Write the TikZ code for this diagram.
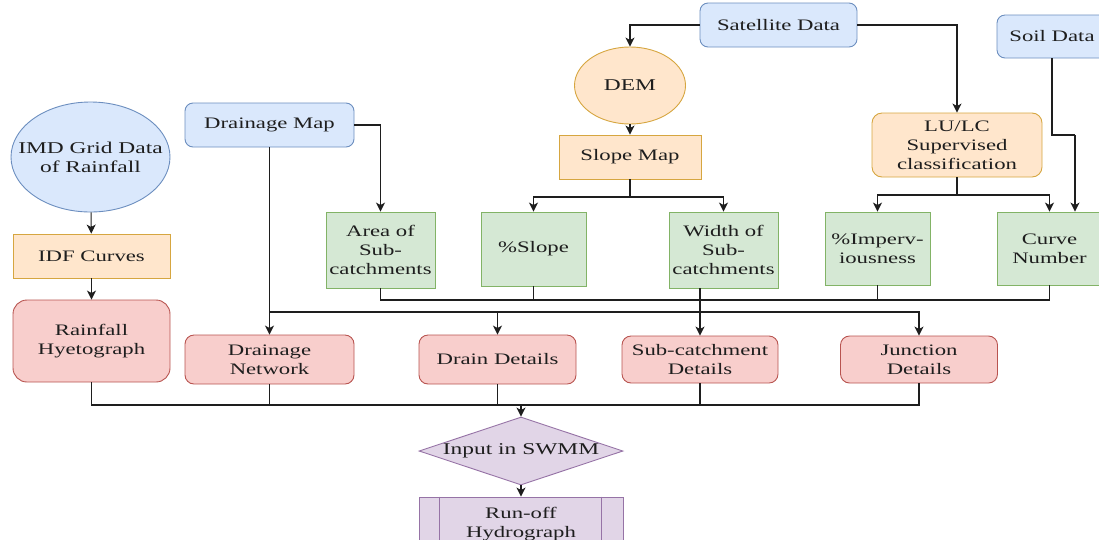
\documentclass[tikz,border=0pt]{standalone}
\usepackage{fontspec}
\setmainfont{Liberation Serif}[FakeStretch=1.42]
\usetikzlibrary{shapes.geometric,arrows.meta,calc}

\definecolor{blueF}{HTML}{DAE8FC}\definecolor{blueD}{HTML}{6C8EBF}
\definecolor{oranF}{HTML}{FFE6CC}\definecolor{oranD}{HTML}{D6A640}
\definecolor{grnF}{HTML}{D5E8D4}\definecolor{grnD}{HTML}{82B366}
\definecolor{redF}{HTML}{F8CECC}\definecolor{redD}{HTML}{B85450}
\definecolor{purF}{HTML}{E1D5E7}\definecolor{purD}{HTML}{9673A6}
\definecolor{ink}{HTML}{1E1E1E}

\tikzset{
  base/.style={draw, line width=0.9pt, inner sep=2pt, align=center, text=ink,
    font=\fontsize{16}{19}\selectfont},
  bluebox/.style={base, fill=blueF, draw=blueD},
  orangebox/.style={base, fill=oranF, draw=oranD},
  greenbox/.style={base, fill=grnF, draw=grnD},
  redbox/.style={base, fill=redF, draw=redD},
  purplebox/.style={base, fill=purF, draw=purD},
  sz/.style 2 args={minimum width=#1, minimum height=#2},
  inner text/.style={label={[align=center, text=ink, font=\fontsize{16.5}{19}\selectfont]center:#1}},
  arr/.style={draw=ink, line width=1.1pt, -{Stealth[length=9pt,width=9pt,inset=2.5pt]}},
  wire/.style={draw=ink, line width=1.1pt},
}

\begin{document}
\begin{tikzpicture}[x=1pt, y=-1pt]
\useasboundingbox (0,0) rectangle (1099,539);
\clip (0,0) rectangle (1099,539);

% rainfall branch
\node[bluebox, ellipse, inner sep=0pt, sz={159}{110}, inner text={IMD Grid Data\\of Rainfall}] (imd) at (90.5,157) {};
\node[orangebox, sz={157}{44}] (idf) at (91.5,256) {IDF Curves};
\node[redbox, rounded corners=14pt, sz={157}{82}] (rain) at (91.5,341) {Rainfall\\Hyetograph};

% drainage map branch
\node[bluebox, rounded corners=8pt, sz={169}{44}] (dmap) at (269.5,125) {Drainage Map};
\node[redbox, rounded corners=9pt, sz={169}{49}] (dnet) at (269.5,359.5) {Drainage\\Network};

% satellite data branch
\node[bluebox, rounded corners=8pt, sz={157}{44}] (sat) at (778.5,25) {Satellite Data};
\node[orangebox, ellipse, inner sep=0pt, sz={111}{77}, inner text={DEM}] (dem) at (630,85.5) {};
\node[orangebox, sz={142}{44}] (slope) at (630,157) {Slope Map};
\node[orangebox, rounded corners=10pt, sz={170}{64}] (lulc) at (957,145) {LU/LC\\Supervised\\classification};
\node[bluebox, rounded corners=8pt, sz={110}{43}] (soil) at (1052,36.5) {Soil Data};

% sub-catchment parameters
\node[greenbox, sz={109}{76}] (area) at (380.5,250) {Area of\\Sub-\\catchments};
\node[greenbox, sz={105}{74}] (pslope) at (533.5,249) {\%Slope};
\node[greenbox, sz={109}{76}] (width) at (723.5,250) {Width of\\Sub-\\catchments};
\node[greenbox, sz={105}{73}] (imperv) at (877.5,248.5) {\%Imperv-\\iousness};
\node[greenbox, sz={105}{73}] (cn) at (1049.5,248.5) {Curve\\Number};

% model inputs
\node[redbox, rounded corners=9pt, sz={157}{49}] (drain) at (497.5,359.5) {Drain Details};
\node[redbox, rounded corners=9pt, sz={156}{47}] (subc) at (700,359.5) {Sub-catchment\\Details};
\node[redbox, rounded corners=9pt, sz={157}{47}] (junc) at (919,359.5) {Junction\\Details};

% SWMM and output
\node[purplebox, diamond, inner sep=0pt, sz={204}{68}, inner text={Input in SWMM}] (swmm) at (521,451) {};
\node[purplebox, sz={204}{54}] (runoff) at (521,524) {Run-off\\Hydrograph};
\draw[purD, line width=0.9pt] ($(runoff.north west)+(21,0)$) -- ($(runoff.south west)+(21,0)$)
                              ($(runoff.north east)+(-22,0)$) -- ($(runoff.south east)+(-22,0)$);

% junction points of the connectors
\coordinate (dfork) at (269.5,312);
\coordinate (sfork) at (630,197);
\coordinate (lfork) at (957,195);
\coordinate (sbend) at (1075,135);
\coordinate (gbus) at (700,300);
\coordinate (obus) at (521,405);

% connectors
\draw[arr] (imd) -- (idf);
\draw[arr] (idf) -- (rain);

\draw[arr] (dmap.east) -| (area.north);
\draw[arr] (dmap.south) -- (dnet.north);
\draw[arr] (dfork) -| (drain.north);
\draw[arr] (dfork) -| (junc.north);

\draw[arr] (sat.west) -| (dem.north);
\draw[arr] (sat.east) -| (lulc.north);
\draw[arr] (dem.south) -- (slope.north);
\draw[wire] (slope.south) -- (sfork);
\draw[arr] (sfork) -| (pslope.north);
\draw[arr] (sfork) -| (width.north);

\draw[wire] (lulc.south) -- (lfork);
\draw[arr] (lfork) -| (imperv.north);
\draw[arr] (lfork) -| (cn.north);
\draw[wire] (soil.south) |- (sbend);
\draw[arr] (sbend) -- (sbend |- cn.north);

\draw[wire] (area.south) |- (gbus);
\draw[wire] (pslope.south) |- (gbus);
\draw[wire] (imperv.south) |- (gbus);
\draw[wire] (cn.south) |- (gbus);
\draw[arr] (width.south -| subc.north) -- (subc.north);

\draw[wire] (rain.south) |- (obus);
\draw[wire] (dnet.south) |- (obus);
\draw[wire] (drain.south) |- (obus);
\draw[wire] (subc.south) |- (obus);
\draw[wire] (junc.south) |- (obus);
\draw[arr] (obus) -- (swmm.north);
\draw[arr] (swmm.south) -- (runoff.north);
\end{tikzpicture}
\end{document}
